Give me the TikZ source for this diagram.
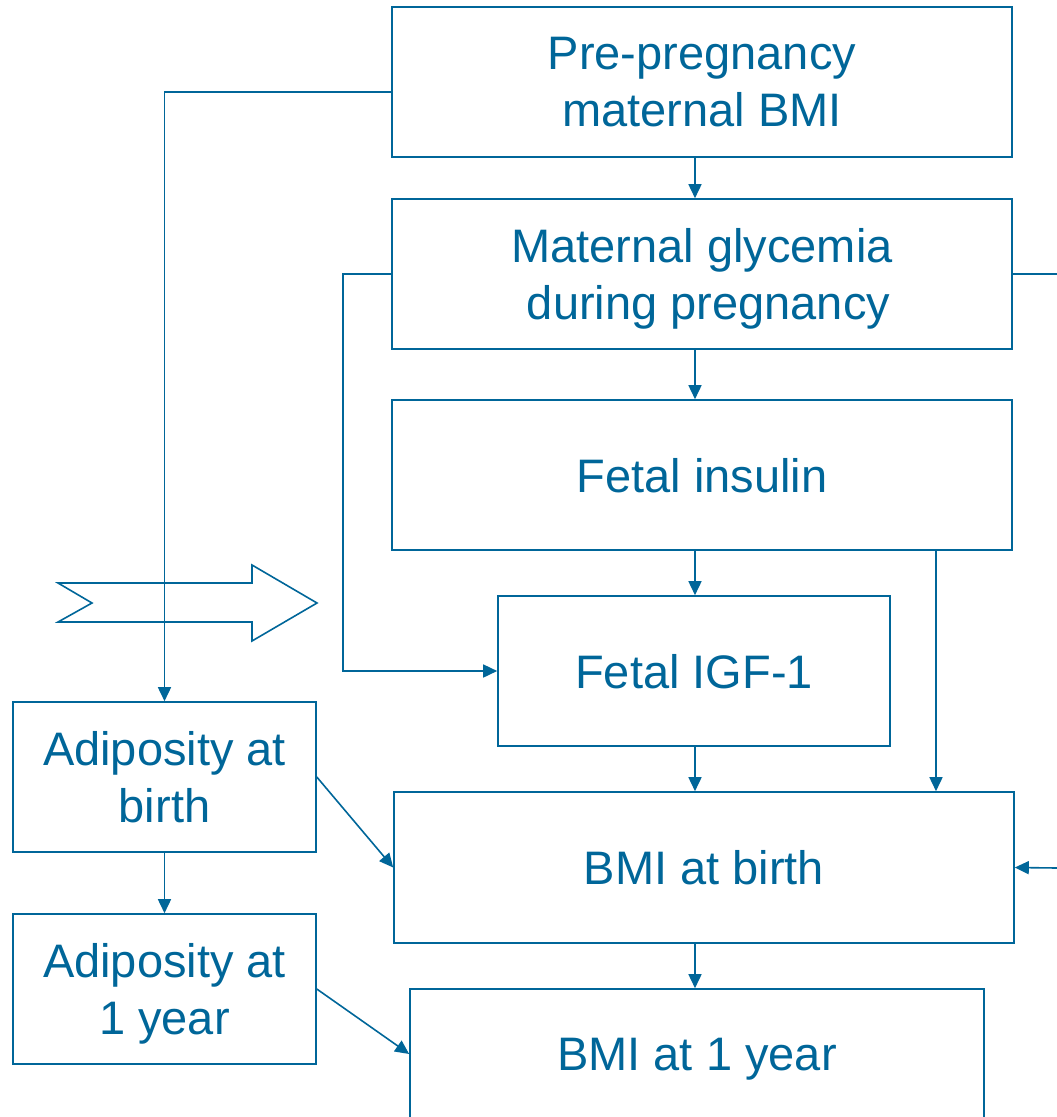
\documentclass[tikz,border=0pt]{standalone}
\usepackage{fontspec}
\setmainfont{Liberation Sans}
\usepackage{xcolor}
\usetikzlibrary{arrows.meta, positioning}
\definecolor{deepblue}{RGB}{0,102,153}

\begin{document}
\begin{tikzpicture}[x=1pt, y=-1pt,
      every node/.style={font=\fontsize{47}{57}\selectfont, text=deepblue},
      box/.style={draw=deepblue, line width=1.6pt, align=center, inner sep=0pt,
                  text depth=0pt, minimum width=620pt, minimum height=150pt},
      ln/.style={draw=deepblue, line width=1.6pt},
      ar/.style={-{Triangle[length=14pt, width=13pt]}, draw=deepblue, line width=1.6pt}]
    \useasboundingbox (0,0) rectangle (1057,1117);
    % main column
    \node[box] (pre) at (702,82) {Pre-pregnancy\\maternal BMI};
    \node[box] (gly) at (702,274) {Maternal glycemia\\\ during pregnancy};
    \node[box] (ins) at (702,475) {Fetal insulin};
    \node[box, minimum width=392pt] (igf) at (694,671) {Fetal IGF-1};
    \node[box, minimum height=151pt] (bth) at (704,867.5) {BMI at birth};
    \node[box, minimum width=574pt, minimum height=130pt] (yr) at (697,1054) {BMI at 1 year};
    % left column
    \node[box, minimum width=303pt] (adb) at (164.5,777) {Adiposity at\\birth};
    \node[box, minimum width=303pt] (ady) at (164.5,989) {Adiposity at\\1 year};
    % free ends on the right
    \coordinate (glyout) at (1057,274);
    \coordinate (bthin) at (1057,868);
    % block arrow
    \draw[ln, line join=miter] (58,583) -- (92,603) -- (58,622) -- (252,622) -- (252,641)
      -- (317,603) -- (252,565) -- (252,583) -- cycle;
    % connectors
    \draw[ar] ([yshift=-10pt]pre.west) -| (adb.north);
    \draw[ar] ([xshift=-7pt]pre.south) -- ([xshift=-7pt]gly.north);
    \draw[ar] ([xshift=-7pt]gly.south) -- ([xshift=-7pt]ins.north);
    \draw[ar] ([xshift=-7pt]ins.south) -- ([xshift=1pt]igf.north);
    \draw[ar] ([xshift=1pt]igf.south) -- ([xshift=-9pt]bth.north);
    \draw[ar] ([xshift=-9pt]bth.south) -- ([xshift=-2pt]yr.north);
    \draw[ar] ([xshift=234pt]ins.south) -- ([xshift=232pt]bth.north);
    \draw[ar] (gly.west) -- ++(-48,0) |- (igf.west);
    \draw[ln] (gly.east) -- (glyout);
    \draw[ar] (bthin) -- (bth.east);
    \draw[ar] (adb.east) -- (bth.west);
    \draw[ar] (adb.south) -- (ady.north);
    \draw[ar] (ady.east) -- (yr.west);
  \end{tikzpicture}
\end{document}
